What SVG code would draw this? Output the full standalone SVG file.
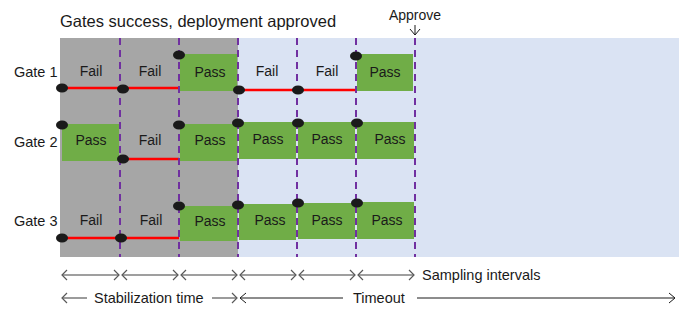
<svg xmlns="http://www.w3.org/2000/svg" width="682" height="320" viewBox="0 0 682 320">
<style>
text{font-family:"Liberation Sans",Arial,sans-serif;fill:#1a1a1a}
.lbl{font-size:14.5px}
.cell{font-size:14px;text-anchor:middle}
.pass{fill:#70ad47}
.dot{fill:#1a1a1a}
.fail{stroke:#ff0000;stroke-width:2.5;fill:none}
.dash{stroke:#7030a0;stroke-width:2;stroke-dasharray:7,5;fill:none}
.samp{stroke:#7f7f7f;stroke-width:1.3;fill:none;marker-start:url(#ch);marker-end:url(#ch)}
.tl{stroke:#1a1a1a;stroke-width:1;fill:none}
</style>
<defs>
<marker id="ch" viewBox="-8 -6 10 12" refX="0" refY="0" markerWidth="10" markerHeight="12" markerUnits="userSpaceOnUse" orient="auto-start-reverse">
<path d="M-5,-5 L0,0 L-5,5" fill="none" stroke="#595959" stroke-width="1.2"/>
</marker>
<marker id="chk" viewBox="-8 -6 10 12" refX="0" refY="0" markerWidth="10" markerHeight="12" markerUnits="userSpaceOnUse" orient="auto-start-reverse">
<path d="M-6,-5 L0,0 L-6,5" fill="none" stroke="#1a1a1a" stroke-width="1"/>
</marker>
</defs>
<rect width="682" height="320" fill="#ffffff"/>
<g id="background">
<rect x="60" y="38" width="178" height="219" fill="#a6a6a6"/>
<rect x="238" y="38" width="441" height="219" fill="#dae3f3"/>
</g>
<text x="60" y="27" font-size="16.5">Gates success, deployment approved</text>
<g id="approve">
<text x="415" y="20" class="cell">Approve</text>
<line x1="415" y1="25" x2="415" y2="35" class="tl" marker-end="url(#chk)"/>
</g>
<g id="gate1">
<text x="14" y="77" class="lbl">Gate 1</text>
<text x="91" y="76" class="cell">Fail</text>
<text x="150" y="76" class="cell">Fail</text>
<rect x="180" y="54" width="57" height="37" class="pass"/>
<text x="210" y="77" class="cell">Pass</text>
<text x="267" y="76" class="cell">Fail</text>
<text x="327" y="76" class="cell">Fail</text>
<rect x="357" y="54" width="56" height="37" class="pass"/>
<text x="385" y="77" class="cell">Pass</text>
</g>
<g id="gate2">
<text x="14" y="147" class="lbl">Gate 2</text>
<rect x="62" y="124" width="57" height="37" class="pass"/>
<text x="91" y="145" class="cell">Pass</text>
<text x="150" y="145" class="cell">Fail</text>
<rect x="180" y="124" width="57" height="37" class="pass"/>
<text x="210" y="145" class="cell">Pass</text>
<rect x="239" y="122" width="57" height="37" class="pass"/>
<text x="268" y="144" class="cell">Pass</text>
<rect x="298" y="122" width="57" height="37" class="pass"/>
<text x="327" y="144" class="cell">Pass</text>
<rect x="357" y="122" width="57" height="37" class="pass"/>
<text x="390" y="144" class="cell">Pass</text>
</g>
<g id="gate3">
<text x="14" y="226" class="lbl">Gate 3</text>
<text x="91" y="225" class="cell">Fail</text>
<text x="151" y="225" class="cell">Fail</text>
<rect x="180" y="206" width="57" height="35" class="pass"/>
<text x="210" y="226" class="cell">Pass</text>
<rect x="239" y="204" width="57" height="36" class="pass"/>
<text x="270" y="225" class="cell">Pass</text>
<rect x="298" y="203" width="57" height="36" class="pass"/>
<text x="327" y="225" class="cell">Pass</text>
<rect x="357" y="202" width="57" height="37" class="pass"/>
<text x="387" y="225" class="cell">Pass</text>
</g>
<g id="connectors">
<path class="fail" d="M62,88 H180 M239,90 H356 M122,159 H179 M62,238 H179"/>
<g id="intervals">
<line x1="120" y1="38" x2="120" y2="257" class="dash"/>
<line x1="179" y1="38" x2="179" y2="257" class="dash"/>
<line x1="238" y1="38" x2="238" y2="257" class="dash"/>
<line x1="297" y1="38" x2="297" y2="257" class="dash"/>
<line x1="356" y1="38" x2="356" y2="257" class="dash"/>
<line x1="415" y1="38" x2="415" y2="257" class="dash"/>
</g>
<g id="samples" class="dot">
<ellipse cx="62" cy="88" rx="6" ry="4.5"/>
<ellipse cx="123" cy="89" rx="6" ry="4.5"/>
<ellipse cx="179" cy="55" rx="6" ry="4.5"/>
<ellipse cx="239" cy="90" rx="6" ry="4.5"/>
<ellipse cx="298" cy="90" rx="6" ry="4.5"/>
<ellipse cx="356" cy="56" rx="6" ry="4.5"/>
<ellipse cx="62" cy="125" rx="6" ry="4.5"/>
<ellipse cx="123" cy="159" rx="6" ry="4.5"/>
<ellipse cx="179" cy="125" rx="6" ry="4.5"/>
<ellipse cx="238" cy="123" rx="6" ry="4.5"/>
<ellipse cx="298" cy="123" rx="6" ry="4.5"/>
<ellipse cx="357" cy="123" rx="6" ry="4.5"/>
<ellipse cx="62" cy="238" rx="6" ry="4.5"/>
<ellipse cx="121" cy="238" rx="6" ry="4.5"/>
<ellipse cx="179" cy="206" rx="6" ry="4.5"/>
<ellipse cx="238" cy="205" rx="6" ry="4.5"/>
<ellipse cx="298" cy="203" rx="6" ry="4.5"/>
<ellipse cx="357" cy="203" rx="6" ry="4.5"/>
</g>
<g id="sampling-arrows">
<line x1="62" y1="275" x2="119" y2="275" class="samp"/>
<line x1="122" y1="275" x2="178" y2="275" class="samp"/>
<line x1="181" y1="275" x2="237" y2="275" class="samp"/>
<line x1="240" y1="275" x2="296" y2="275" class="samp"/>
<line x1="299" y1="275" x2="355" y2="275" class="samp"/>
<line x1="358" y1="275" x2="414" y2="275" class="samp"/>
</g>
<g id="durations">
<line x1="62" y1="298" x2="87" y2="298" stroke="#595959" stroke-width="1.2" marker-start="url(#ch)"/>
<line x1="212" y1="298" x2="237" y2="298" stroke="#595959" stroke-width="1.2" marker-end="url(#ch)"/>
<line x1="240" y1="298" x2="343" y2="298" class="tl" marker-start="url(#chk)"/>
<line x1="417" y1="298" x2="675" y2="298" class="tl" marker-end="url(#chk)"/>
</g>
</g>
<text x="422" y="280" class="lbl">Sampling intervals</text>
<text x="94" y="303" class="lbl">Stabilization time</text>
<text x="353" y="303" class="lbl">Timeout</text>
</svg>
